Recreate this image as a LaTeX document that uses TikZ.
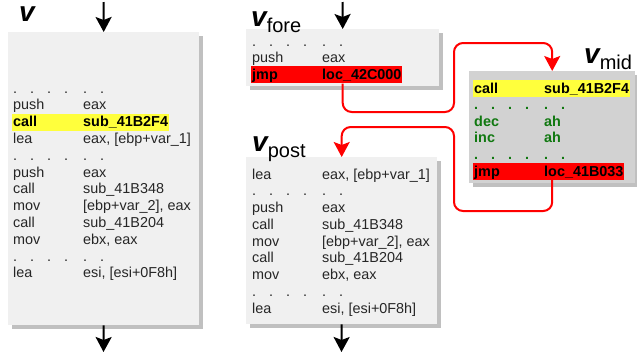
\documentclass[tikz,border=0pt]{standalone}
\usepackage{fontspec}
\setmainfont{Liberation Sans}
\usetikzlibrary{arrows.meta, positioning, shadows}
\usepackage{xcolor}

\definecolor{boxfill}{HTML}{F0F0F0}
\definecolor{midfill}{HTML}{D2D2D2}
\definecolor{shade}{HTML}{C0C0C0}
\definecolor{asmgreen}{HTML}{107810}
\definecolor{hlyellow}{HTML}{FFFF3C}

\newcommand{\rowdots}{.\hspace{13pt}.\hspace{13pt}.\hspace{13pt}.}
\newcommand{\coldots}{.\hspace{13pt}.}
\newcommand{\insn}[2]{\makebox[70pt][l]{#1}#2}
\newcommand{\vsub}[1]{\raisebox{-6pt}{\fontsize{20}{20}\selectfont\mdseries\upshape #1}}

\tikzset{
  codebox/.style={anchor=north west, inner sep=0pt, fill=boxfill,
    drop shadow={shadow xshift=4pt, shadow yshift=-4pt, fill=shade, opacity=1}},
  asm/.style={anchor=base west, inner sep=0pt, text=black!85, font=\fontsize{14.4}{16}\selectfont},
  hilite/.style={asm, text=black, font=\fontsize{14.4}{16}\selectfont\bfseries,
    inner xsep=1pt, inner ysep=1pt, text height=12pt, text depth=3pt},
  vname/.style={anchor=base west, inner sep=0pt, font=\fontsize{28}{28}\selectfont\bfseries\itshape},
  flow/.style={line width=2pt, -{Stealth[length=15pt, width=16pt, inset=3pt]}},
  jump/.style={flow, red, rounded corners=9pt}
}

\begin{document}
\begin{tikzpicture}[x=1pt, y=-1pt]
  \useasboundingbox (0,0) rectangle (637,360);

  % blocks
  \node[codebox, minimum width=191pt, minimum height=293pt] (v) at (8,32) {};
  \node[codebox, minimum width=193pt, minimum height=57pt] (fore) at (246,29) {};
  \node[codebox, minimum width=191pt, minimum height=167pt] (post) at (246,157) {};
  \node[codebox, fill=midfill, minimum width=166pt, minimum height=112pt] (mid) at (469,71) {};

  % names
  \node[vname] (vlab) at (19,21) {v};
  \node[vname] (forelab) at (251,26) {v\vsub{fore}};
  \node[vname] (postlab) at (252,151) {v\vsub{post}};
  \node[vname] (midlab) at (584,63) {v\vsub{mid}};

  % v
  \foreach \i/\m/\o in {0/\rowdots/\coldots, 1/push/eax, 3/lea/{eax, [ebp+var\_1]},
      4/\rowdots/\coldots, 5/push/eax, 6/call/sub\_41B348, 7/mov/{[ebp+var\_2], eax},
      8/call/sub\_41B204, 9/mov/{ebx, eax}, 10/\rowdots/\coldots, 11/lea/{esi, [esi+0F8h]}}
    \node[asm] (v-\i) at (13,{93+16.8*\i}) {\insn{\m}{\o}};
  \node[hilite, fill=hlyellow] (vcall) at (12,{93+16.8*2}) {\insn{call}{sub\_41B2F4}};

  % v_fore
  \foreach \i/\m/\o in {0/\rowdots/\coldots, 1/push/eax}
    \node[asm] (fore-\i) at (252,{46+16.7*\i}) {\insn{\m}{\o}};
  \node[hilite, fill=red] (forejmp) at (251,{46+16.7*2}) {\insn{jmp}{loc\_42C000}};

  % v_post
  \foreach \i/\m/\o in {0/lea/{eax, [ebp+var\_1]}, 1/\rowdots/\coldots, 2/push/eax,
      3/call/sub\_41B348, 4/mov/{[ebp+var\_2], eax}, 5/call/sub\_41B204,
      6/mov/{ebx, eax}, 7/\rowdots/\coldots, 8/lea/{esi, [esi+0F8h]}}
    \node[asm] (post-\i) at (252,{179+16.75*\i}) {\insn{\m}{\o}};

  % v_mid
  \node[hilite, fill=hlyellow] (midcall) at (473,93) {\insn{call}{sub\_41B2F4}};
  \foreach \i/\m/\o in {1/\rowdots/\coldots, 2/dec/ah, 3/inc/ah, 4/\rowdots/\coldots}
    \node[asm, text=asmgreen, font=\fontsize{14.4}{16}\selectfont\bfseries] (mid-\i) at (474,{93+16.6*\i}) {\insn{\m}{\o}};
  \node[hilite, fill=red] (midjmp) at (473,{93+16.6*5}) {\insn{jmp}{loc\_41B033}};

  % control flow
  \coordinate (vin) at (103.5,2);
  \coordinate (vout) at (103.5,352);
  \coordinate (forein) at (342.5,2);
  \coordinate (postout) at (341.5,352);
  \draw[flow] (vin) -- (v.north);
  \draw[flow] (v.south) -- (vout);
  \draw[flow] (forein) -- (fore.north);
  \draw[flow] (post.south) -- (postout);

  \coordinate (golow) at (454,112);
  \coordinate (gohigh) at (454,43);
  \coordinate (backlow) at (454,211);
  \coordinate (backhigh) at (454,127);
  \draw[jump] (forejmp.south -| fore.south) |- (golow) -- (gohigh) -| (mid.north);
  \draw[jump] (midjmp.south -| mid.south) |- (backlow) -- (backhigh) -| (post.north);
\end{tikzpicture}
\end{document}
